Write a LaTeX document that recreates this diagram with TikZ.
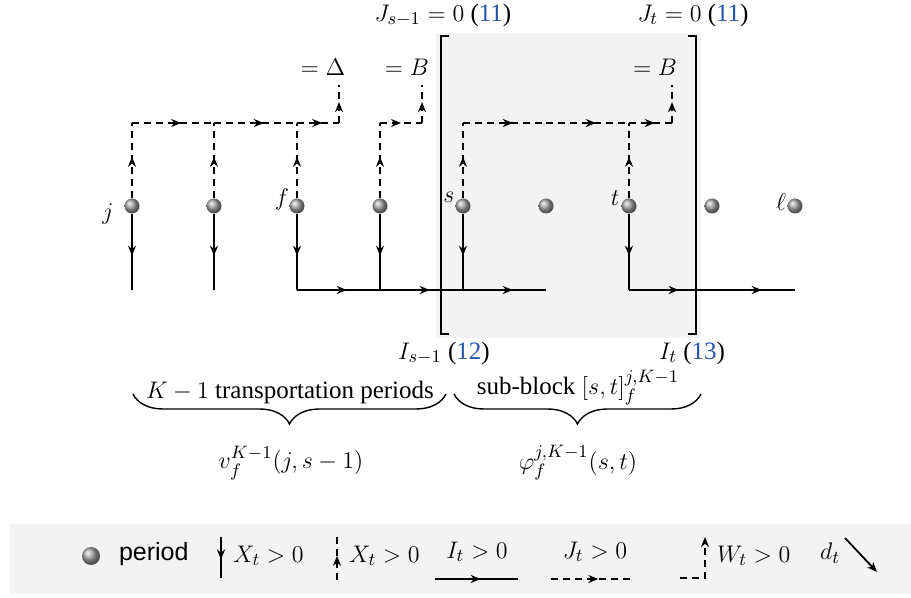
\documentclass[tikz,border=0pt]{standalone}
\usepackage{fontspec}
\setmainfont{Liberation Serif}
\setsansfont{Liberation Sans}
\usetikzlibrary{arrows.meta,decorations.markings,decorations.pathreplacing}
\definecolor{refblue}{RGB}{38,84,168}
\definecolor{blockgray}{RGB}{243,243,243}
\newcommand{\refno}[1]{(\textcolor{refblue}{#1})}
\tikzset{
  period/.style={circle, inner sep=0pt, minimum size=7.5pt, shading=ball, ball color=gray!70},
  xflow/.style={line width=0.9pt, postaction={decorate},
    decoration={markings, mark=at position #1 with {\arrow{Stealth[length=5pt,width=4pt,inset=1.6pt]}}}},
  xflow/.default=0.55,
  jflow/.style={xflow=#1, dash pattern=on 3.5pt off 2.5pt},
  jflow/.default=0.55,
  bracket/.style={line width=1pt},
  brc/.style={decorate, decoration={brace, mirror, amplitude=15pt}, line width=0.7pt},
}

\begin{document}
\begin{tikzpicture}[x=0.5pt, y=-0.5pt, every node/.style={font=\fontsize{12.5}{14}\selectfont}]
        \useasboundingbox (0,0) rectangle (911,598);
        % shaded sub-block and legend
        \fill[blockgray] (436,33) rectangle (701,338);
        \fill[blockgray] (10,524) rectangle (911,594);
        % periods
        \foreach \x [count=\i] in {132,214,297,380,463,546,629,712,795} {
            \node[period] (p\i) at (\x,206) {};
            \coordinate (u\i) at (\x,123);
            \coordinate (d\i) at (\x,290);
        }
        \coordinate (c1) at (339,123);
        \coordinate (a1) at (339,85);
        \coordinate (c2) at (422,123);
        \coordinate (a2) at (422,85);
        \coordinate (c3) at (672,123);
        \coordinate (a3) at (672,85);
        \draw
            (108,214) node (lj){$j$}
            (282,200) node (lf){$f$}
            (449,197) node (ls){$s$}
            (615,198) node (lt){$t$}
            (781,202) node (ll){$\ell$}
            (323,67) node (eqd){$=\Delta$}
            (407,67) node (eqb1){$=B$}
            (655,67) node (eqb2){$=B$};
        % brackets
        \draw[bracket] (449,36) -- (441,36) -- (441,334) -- (449,334);
        \draw[bracket] (688,36) -- (696,36) -- (696,334) -- (688,334);
        % production and transportation
        \foreach \i in {1,2,3,4,5,7} {
            \draw[jflow] (p\i) -- (u\i);
            \draw[xflow] (p\i) -- (d\i);
        }
        \draw[jflow=0.6] (u1) -- (u2);
        \draw[jflow=0.6] (u2) -- (u3);
        \draw[jflow=0.6] (u3) -- (c1);
        \draw[jflow] (c1) -- (a1);
        \draw[jflow=0.5] (u4) -- (c2);
        \draw[jflow] (c2) -- (a2);
        \draw[jflow=0.6] (u5) -- (u6);
        \draw[jflow=0.6] (u6) -- (u7);
        \draw[jflow=0.6] (u7) -- (c3);
        \draw[jflow] (c3) -- (a3);
        \draw[xflow=0.6] (d3) -- (d4);
        \draw[xflow=0.6] (d4) -- (d5);
        \draw[xflow=0.6] (d5) -- (d6);
        \draw[xflow=0.6] (d7) -- (d8);
        \draw[xflow=0.6] (d8) -- (d9);
        % bounds
        \draw
            (443,15) node (js){$J_{s-1}=0$ \refno{11}}
            (693,15) node (jt){$J_t=0$ \refno{11}}
            (444,353) node (is){$I_{s-1}$ \refno{12}}
            (692,353) node (it){$I_t$ \refno{13}};
        % braces
        \draw[brc] (133,394) -- (446,394);
        \draw[brc] (454,394) -- (701,394);
        \draw
            (290,392) node (kt){$K-1$ transportation periods}
            (578,388) node[inner sep=1pt] (sb){sub-block $[s,t]_f^{j,K-1}$}
            (291,463) node (vf){$v_f^{K-1}(j,s-1)$}
            (578,463) node (ph){$\varphi_f^{j,K-1}(s,t)$};
        % legend
        \node[period, minimum size=9pt] (lp) at (91,556) {};
        \node[anchor=west, font=\sffamily\fontsize{12.5}{14}\selectfont] (lpt) at (112,554) {period};
        \coordinate (xa) at (221,537);
        \coordinate (xb) at (221,578);
        \draw[xflow] (xa) -- (xb);
        \node[anchor=west] (xt) at (226,556) {$X_t>0$};
        \coordinate (ya) at (337,580);
        \coordinate (yb) at (337,536);
        \draw[jflow] (ya) -- (yb);
        \node[anchor=west] (yt) at (342,556) {$X_t>0$};
        \coordinate (ia) at (435,579);
        \coordinate (ib) at (518,579);
        \draw[xflow] (ia) -- (ib);
        \node (itx) at (477,552) {$I_t>0$};
        \coordinate (ja) at (551,579);
        \coordinate (jb) at (634,579);
        \draw[jflow=0.57] (ja) -- (jb);
        \node (jtx) at (595,552) {$J_t>0$};
        \coordinate (wa) at (680,578);
        \coordinate (wb) at (705,578);
        \coordinate (wc) at (705,537);
        \draw[line width=0.9pt, dash pattern=on 3.5pt off 2.5pt, -{Stealth[length=5pt,width=4pt,inset=1.6pt]}] (wa) -- (wb) -- (wc);
        \node[anchor=west] (wt) at (710,556) {$W_t>0$};
        \node (dt) at (830,553) {$d_t$};
        \coordinate (da) at (845,538);
        \coordinate (db) at (877,572);
        \draw[line width=0.9pt, -{Stealth[length=5pt,width=4pt,inset=1.6pt]}] (da) -- (db);
\end{tikzpicture}
\end{document}
